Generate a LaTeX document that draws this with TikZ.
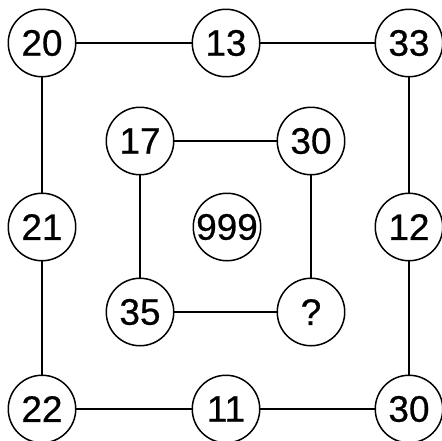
\documentclass[tikz,border=0pt]{standalone}
\usepackage{fontspec}
\setmainfont{Liberation Sans}
\newfontfamily\numfont[FakeBold=0.6]{Liberation Sans}
\usetikzlibrary{positioning}

\begin{document}
\begin{tikzpicture}[x=0.02cm,y=-0.02cm]
 \tikzstyle{numnode}=[circle,draw=black,line width=0.85pt,
   minimum size=1.35cm,inner sep=0pt,font=\numfont\fontsize{21}{25}\selectfont]
 \tikzstyle{link}=[line width=0.85pt]
 \useasboundingbox (0,0) rectangle (442,440);
 % outer ring
 \node (a20) [numnode] at (42,43) {20};
 \node (a13) [numnode] at (226,43) {13};
 \node (a33) [numnode] at (409,43) {33};
 \node (a21) [numnode] at (42,227) {21};
 \node (a12) [numnode] at (409,227) {12};
 \node (a22) [numnode] at (42,409) {22};
 \node (a11) [numnode] at (226,409) {11};
 \node (a30) [numnode] at (409,409) {30};
 % inner ring
 \node (b17) [numnode] at (140,141) {17};
 \node (b30) [numnode] at (311,141) {30};
 \node (b35) [numnode] at (140,312) {35};
 \node (bq) [numnode] at (311,312) {?};
 \node (c999) [numnode] at (227,227) {999};
 \draw[link] (a20) -- (a13);
 \draw[link] (a13) -- (a33);
 \draw[link] (a33) -- (a12);
 \draw[link] (a12) -- (a30);
 \draw[link] (a22) -- (a11);
 \draw[link] (a11) -- (a30);
 \draw[link] (a20) -- (a21);
 \draw[link] (a21) -- (a22);
 \draw[link] (b17) -- (b30);
 \draw[link] (b30) -- (bq);
 \draw[link] (b35) -- (bq);
 \draw[link] (b17) -- (b35);
\end{tikzpicture}
\end{document}
